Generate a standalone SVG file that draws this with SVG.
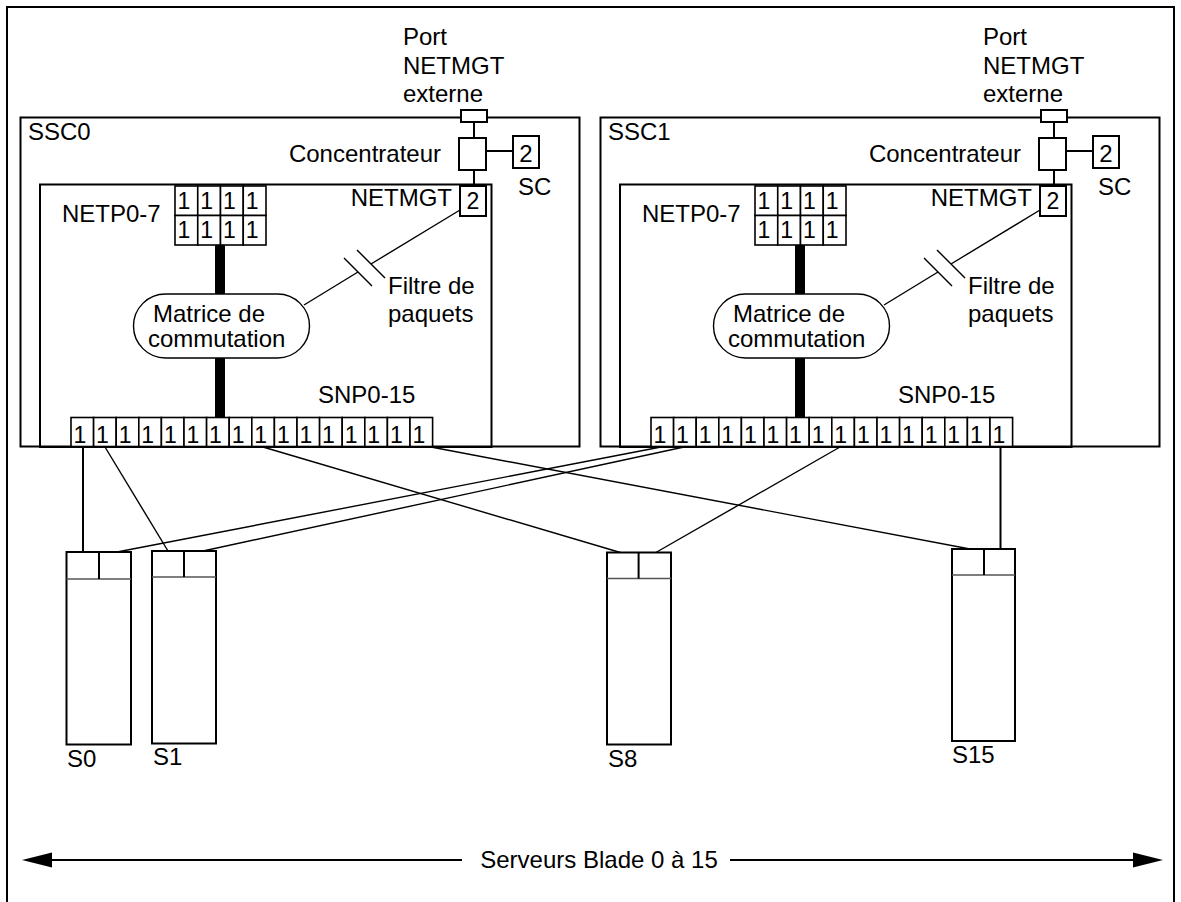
<svg xmlns="http://www.w3.org/2000/svg" width="1181" height="902" viewBox="0 0 1181 902">
<defs>
<style>
text{font-family:"Liberation Sans",Arial,sans-serif;fill:#000}
.t{font-size:24px}
.d{font-size:23px}
.box{fill:none;stroke:#000;stroke-width:2}
.wbox{fill:#fff;stroke:#000;stroke-width:2}
.cell{fill:#fff;stroke:#000;stroke-width:1.6}
.ln{fill:none;stroke:#000;stroke-width:1.4}
.thk{fill:none;stroke:#000;stroke-width:2}
.bar{fill:#000}
.div{stroke:#555;stroke-width:1.5}
</style>
<marker id="ah" viewBox="0 -8 30 16" refX="0" refY="0" markerWidth="30" markerHeight="16" markerUnits="userSpaceOnUse" orient="auto">
<path d="M0,-7.5 L30,0 L0,7.5 z" fill="#000"/>
</marker>
</defs>
<rect width="1181" height="902" fill="#fff"/>
<g id="frame"><path d="M7,902 V7 H1174 V902" class="box"/></g>

<g id="ssc0">
<rect x="20.5" y="117.5" width="559" height="329" class="box"/>
<text x="28" y="140" class="t">SSC0</text>
<g id="ssc0-port"><rect x="461" y="110" width="26" height="12" class="wbox"/>
<text x="403" y="45" class="t">Port</text><text x="403" y="74" class="t">NETMGT</text><text x="403" y="102" class="t">externe</text></g>
<g id="ssc0-hub"><line x1="474" y1="122" x2="474" y2="138" class="thk"/>
<rect x="459" y="138" width="27" height="32" class="wbox"/>
<text x="441" y="162" class="t" text-anchor="end">Concentrateur</text>
<line x1="486" y1="151" x2="513" y2="151" class="thk"/>
<line x1="474" y1="170" x2="474" y2="186" class="thk"/></g>
<g id="ssc0-sc"><rect x="513" y="136" width="26" height="32" class="wbox"/>
<text x="526" y="162" class="t" text-anchor="middle">2</text>
<text x="518" y="195" class="t">SC</text></g>
<g id="ssc0-switch">
<rect x="40" y="184.5" width="451.5" height="262.5" class="box"/>
<rect x="460" y="186" width="26" height="30" class="wbox"/>
<text x="473" y="208.5" font-size="23" text-anchor="middle">2</text>
<text x="452" y="206" class="t" text-anchor="end">NETMGT</text>
<text x="62" y="222" class="t">NETP0-7</text>
<g id="ssc0-netp">
<rect x="175" y="186" width="22.75" height="29.5" class="cell"/><rect x="197.75" y="186" width="22.75" height="29.5" class="cell"/><rect x="220.5" y="186" width="22.75" height="29.5" class="cell"/><rect x="243.25" y="186" width="22.75" height="29.5" class="cell"/>
<rect x="175" y="215.5" width="22.75" height="29.5" class="cell"/><rect x="197.75" y="215.5" width="22.75" height="29.5" class="cell"/><rect x="220.5" y="215.5" width="22.75" height="29.5" class="cell"/><rect x="243.25" y="215.5" width="22.75" height="29.5" class="cell"/>
<text x="177.5" y="208.5" class="d">1</text><text x="200.25" y="208.5" class="d">1</text><text x="223" y="208.5" class="d">1</text><text x="245.75" y="208.5" class="d">1</text>
<text x="177.5" y="238" class="d">1</text><text x="200.25" y="238" class="d">1</text><text x="223" y="238" class="d">1</text><text x="245.75" y="238" class="d">1</text>
</g>
<rect x="215" y="245" width="10" height="49" class="bar"/>
<rect x="215" y="358" width="10" height="59.5" class="bar"/>
<g id="ssc0-matrix"><rect x="133.5" y="294" width="176" height="64" rx="32" ry="32" fill="#fff" stroke="#000" stroke-width="1.4"/>
<text x="153" y="322" class="t">Matrice de</text><text x="148" y="347" class="t">commutation</text></g>
<g id="ssc0-filter"><line x1="460" y1="210" x2="371" y2="264" class="ln"/><line x1="358" y1="272" x2="304" y2="305" class="ln"/>
<line x1="344" y1="258" x2="372" y2="286" class="ln"/><line x1="357" y1="250" x2="385" y2="278" class="ln"/>
<text x="388" y="294" class="t">Filtre de</text><text x="388" y="322" class="t">paquets</text></g>
<text x="318" y="403" class="t">SNP0-15</text>
<g id="ssc0-snp">
<rect x="71" y="417.5" width="22.6" height="29" class="cell"/><rect x="93.6" y="417.5" width="22.6" height="29" class="cell"/><rect x="116.2" y="417.5" width="22.6" height="29" class="cell"/><rect x="138.8" y="417.5" width="22.6" height="29" class="cell"/><rect x="161.4" y="417.5" width="22.6" height="29" class="cell"/><rect x="184" y="417.5" width="22.6" height="29" class="cell"/><rect x="206.6" y="417.5" width="22.6" height="29" class="cell"/><rect x="229.2" y="417.5" width="22.6" height="29" class="cell"/><rect x="251.8" y="417.5" width="22.6" height="29" class="cell"/><rect x="274.4" y="417.5" width="22.6" height="29" class="cell"/><rect x="297" y="417.5" width="22.6" height="29" class="cell"/><rect x="319.6" y="417.5" width="22.6" height="29" class="cell"/><rect x="342.2" y="417.5" width="22.6" height="29" class="cell"/><rect x="364.8" y="417.5" width="22.6" height="29" class="cell"/><rect x="387.4" y="417.5" width="22.6" height="29" class="cell"/><rect x="410" y="417.5" width="22.6" height="29" class="cell"/>
<text x="73.5" y="443" class="d">1</text><text x="96.1" y="443" class="d">1</text><text x="118.7" y="443" class="d">1</text><text x="141.3" y="443" class="d">1</text><text x="163.9" y="443" class="d">1</text><text x="186.5" y="443" class="d">1</text><text x="209.1" y="443" class="d">1</text><text x="231.7" y="443" class="d">1</text><text x="254.3" y="443" class="d">1</text><text x="276.9" y="443" class="d">1</text><text x="299.5" y="443" class="d">1</text><text x="322.1" y="443" class="d">1</text><text x="344.7" y="443" class="d">1</text><text x="367.3" y="443" class="d">1</text><text x="389.9" y="443" class="d">1</text><text x="412.5" y="443" class="d">1</text>
</g>
</g>
</g>

<g id="ssc1" transform="translate(580,0)">
<rect x="20.5" y="117.5" width="559" height="329" class="box"/>
<text x="28" y="140" class="t">SSC1</text>
<g id="ssc1-port"><rect x="461" y="110" width="26" height="12" class="wbox"/>
<text x="403" y="45" class="t">Port</text><text x="403" y="74" class="t">NETMGT</text><text x="403" y="102" class="t">externe</text></g>
<g id="ssc1-hub"><line x1="474" y1="122" x2="474" y2="138" class="thk"/>
<rect x="459" y="138" width="27" height="32" class="wbox"/>
<text x="441" y="162" class="t" text-anchor="end">Concentrateur</text>
<line x1="486" y1="151" x2="513" y2="151" class="thk"/>
<line x1="474" y1="170" x2="474" y2="186" class="thk"/></g>
<g id="ssc1-sc"><rect x="513" y="136" width="26" height="32" class="wbox"/>
<text x="526" y="162" class="t" text-anchor="middle">2</text>
<text x="518" y="195" class="t">SC</text></g>
<g id="ssc1-switch">
<rect x="40" y="184.5" width="451.5" height="262.5" class="box"/>
<rect x="460" y="186" width="26" height="30" class="wbox"/>
<text x="473" y="208.5" font-size="23" text-anchor="middle">2</text>
<text x="452" y="206" class="t" text-anchor="end">NETMGT</text>
<text x="62" y="222" class="t">NETP0-7</text>
<g id="ssc1-netp">
<rect x="175" y="186" width="22.75" height="29.5" class="cell"/><rect x="197.75" y="186" width="22.75" height="29.5" class="cell"/><rect x="220.5" y="186" width="22.75" height="29.5" class="cell"/><rect x="243.25" y="186" width="22.75" height="29.5" class="cell"/>
<rect x="175" y="215.5" width="22.75" height="29.5" class="cell"/><rect x="197.75" y="215.5" width="22.75" height="29.5" class="cell"/><rect x="220.5" y="215.5" width="22.75" height="29.5" class="cell"/><rect x="243.25" y="215.5" width="22.75" height="29.5" class="cell"/>
<text x="177.5" y="208.5" class="d">1</text><text x="200.25" y="208.5" class="d">1</text><text x="223" y="208.5" class="d">1</text><text x="245.75" y="208.5" class="d">1</text>
<text x="177.5" y="238" class="d">1</text><text x="200.25" y="238" class="d">1</text><text x="223" y="238" class="d">1</text><text x="245.75" y="238" class="d">1</text>
</g>
<rect x="215" y="245" width="10" height="49" class="bar"/>
<rect x="215" y="358" width="10" height="59.5" class="bar"/>
<g id="ssc1-matrix"><rect x="133.5" y="294" width="176" height="64" rx="32" ry="32" fill="#fff" stroke="#000" stroke-width="1.4"/>
<text x="153" y="322" class="t">Matrice de</text><text x="148" y="347" class="t">commutation</text></g>
<g id="ssc1-filter"><line x1="460" y1="210" x2="371" y2="264" class="ln"/><line x1="358" y1="272" x2="304" y2="305" class="ln"/>
<line x1="344" y1="258" x2="372" y2="286" class="ln"/><line x1="357" y1="250" x2="385" y2="278" class="ln"/>
<text x="388" y="294" class="t">Filtre de</text><text x="388" y="322" class="t">paquets</text></g>
<text x="318" y="403" class="t">SNP0-15</text>
<g id="ssc1-snp">
<rect x="71" y="417.5" width="22.6" height="29" class="cell"/><rect x="93.6" y="417.5" width="22.6" height="29" class="cell"/><rect x="116.2" y="417.5" width="22.6" height="29" class="cell"/><rect x="138.8" y="417.5" width="22.6" height="29" class="cell"/><rect x="161.4" y="417.5" width="22.6" height="29" class="cell"/><rect x="184" y="417.5" width="22.6" height="29" class="cell"/><rect x="206.6" y="417.5" width="22.6" height="29" class="cell"/><rect x="229.2" y="417.5" width="22.6" height="29" class="cell"/><rect x="251.8" y="417.5" width="22.6" height="29" class="cell"/><rect x="274.4" y="417.5" width="22.6" height="29" class="cell"/><rect x="297" y="417.5" width="22.6" height="29" class="cell"/><rect x="319.6" y="417.5" width="22.6" height="29" class="cell"/><rect x="342.2" y="417.5" width="22.6" height="29" class="cell"/><rect x="364.8" y="417.5" width="22.6" height="29" class="cell"/><rect x="387.4" y="417.5" width="22.6" height="29" class="cell"/><rect x="410" y="417.5" width="22.6" height="29" class="cell"/>
<text x="73.5" y="443" class="d">1</text><text x="96.1" y="443" class="d">1</text><text x="118.7" y="443" class="d">1</text><text x="141.3" y="443" class="d">1</text><text x="163.9" y="443" class="d">1</text><text x="186.5" y="443" class="d">1</text><text x="209.1" y="443" class="d">1</text><text x="231.7" y="443" class="d">1</text><text x="254.3" y="443" class="d">1</text><text x="276.9" y="443" class="d">1</text><text x="299.5" y="443" class="d">1</text><text x="322.1" y="443" class="d">1</text><text x="344.7" y="443" class="d">1</text><text x="367.3" y="443" class="d">1</text><text x="389.9" y="443" class="d">1</text><text x="412.5" y="443" class="d">1</text>
</g>
</g>
</g>

<g id="connectors">
<line x1="83" y1="447" x2="83" y2="552" class="thk"/>
<line x1="105" y1="447" x2="168" y2="551" class="ln"/>
<line x1="263" y1="447" x2="622" y2="553" class="ln"/>
<line x1="431" y1="447" x2="970" y2="549" class="ln"/>
<line x1="661" y1="447" x2="117" y2="552" class="ln"/>
<line x1="684" y1="447" x2="203" y2="551" class="ln"/>
<line x1="840" y1="447" x2="655" y2="553" class="ln"/>
<line x1="1000.5" y1="447" x2="1000.5" y2="549" class="thk"/>
</g>

<g id="s0"><rect x="66.5" y="552" width="64.5" height="192.5" class="wbox"/>
<line x1="66.5" y1="579" x2="131" y2="579" class="div"/><line x1="99" y1="552" x2="99" y2="579" class="thk"/>
<text x="67" y="767" class="t">S0</text></g>
<g id="s1"><rect x="152" y="551" width="64" height="192.5" class="wbox"/>
<line x1="152" y1="577" x2="216" y2="577" class="div"/><line x1="184" y1="551" x2="184" y2="577" class="thk"/>
<text x="153" y="765" class="t">S1</text></g>
<g id="s8"><rect x="607" y="552.5" width="64" height="192" class="wbox"/>
<line x1="607" y1="578.5" x2="671" y2="578.5" class="div"/><line x1="638.6" y1="552.5" x2="638.6" y2="578.5" class="thk"/>
<text x="608" y="767" class="t">S8</text></g>
<g id="s15"><rect x="952" y="549" width="63" height="192" class="wbox"/>
<line x1="952" y1="575" x2="1015" y2="575" class="div"/><line x1="984" y1="549" x2="984" y2="575" class="thk"/>
<text x="952" y="763" class="t">S15</text></g>

<g id="range">
<line x1="462" y1="860" x2="52" y2="860" class="thk" marker-end="url(#ah)"/>
<line x1="730" y1="860" x2="1133" y2="860" class="thk" marker-end="url(#ah)"/>
<text x="599" y="868" class="t" text-anchor="middle">Serveurs Blade 0 à 15</text>
</g>
</svg>
